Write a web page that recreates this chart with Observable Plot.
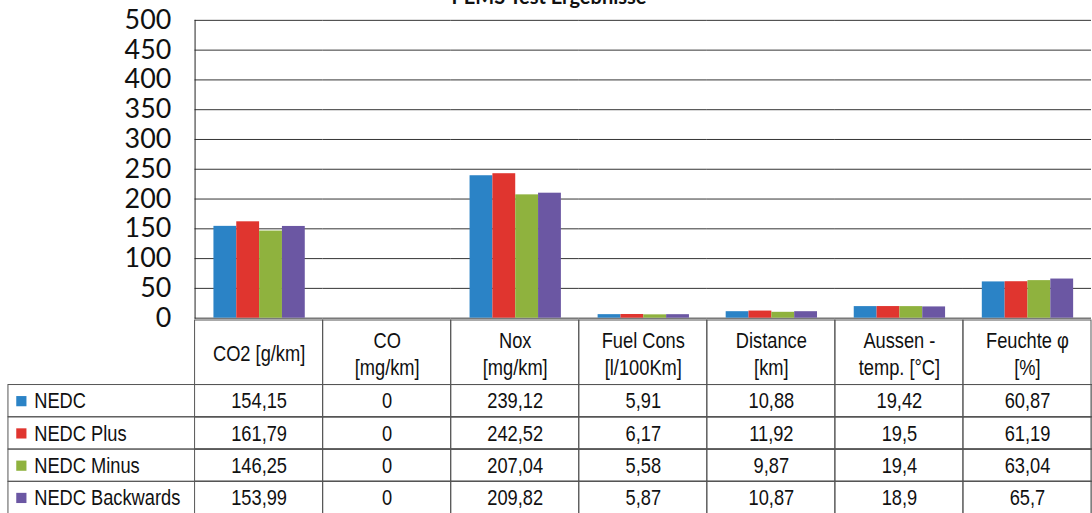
<!DOCTYPE html>
<html>
<head>
<meta charset="utf-8">
<script src="https://cdn.jsdelivr.net/npm/d3@7"></script>
<script src="https://cdn.jsdelivr.net/npm/@observablehq/plot@0.6"></script>
<style>
  html, body { margin: 0; padding: 0; background: #fff; overflow: hidden; width: 1092px; height: 513px; }
  #wrap { position: relative; width: 1092px; height: 513px; overflow: hidden; }
  #title { position: absolute; left: 0; width: 1098px; top: -14px; text-align: center;
           font: bold 20px Lato, "Open Sans", sans-serif; line-height: 20px; color: #111; }
  #chart { position: absolute; left: 0; top: 0; }
  #table { position: absolute; left: 0; top: 320px; }
  svg { overflow: visible; }
</style>
</head>
<body>
<div id="wrap">
  <div id="title">PEMS Test Ergebnisse</div>
  <div id="chart"></div>
  <div id="table"></div>
</div>
<script>
// ---- data ----
const categories = ["CO2 [g/km]", "CO\n[mg/km]", "Nox\n[mg/km]", "Fuel Cons\n[l/100Km]", "Distance\n[km]", "Aussen -\ntemp. [°C]", "Feuchte φ\n[%]"];
const series = ["NEDC", "NEDC Plus", "NEDC Minus", "NEDC Backwards"];
const nedc          = [154.15, 0, 239.12, 5.91, 10.88, 19.42, 60.87];
const nedcPlus      = [161.79, 0, 242.52, 6.17, 11.92, 19.5, 61.19];
const nedcMinus     = [146.25, 0, 207.04, 5.58, 9.87, 19.4, 63.04];
const nedcBackwards = [153.99, 0, 209.82, 5.87, 10.87, 18.9, 65.7];
const yTicks = [0, 50, 100, 150, 200, 250, 300, 350, 400, 450, 500];
const colors = ["#2b83c6", "#e0352f", "#8fb23e", "#6b57a3"];

// ---- derived table ----
const valuesBySeries = [nedc, nedcPlus, nedcMinus, nedcBackwards];
const rows = [];
series.forEach((s, si) => {
  categories.forEach((c, ci) => {
    rows.push({series: s, si, category: c, value: valuesBySeries[si][ci]});
  });
});
const fmt = v => String(v).replace(".", ",");
const tableFont = '"Liberation Sans", Arial, sans-serif';

// ---- chart ----
const chart = Plot.plot({
  width: 1100, height: 322,
  marginTop: 20, marginBottom: 2, marginLeft: 194, marginRight: 0,
  style: {background: "transparent", overflow: "visible"},
  fx: {domain: categories, padding: 0, axis: null},
  x: {domain: series, paddingInner: 0, paddingOuter: 0.755, axis: null},
  y: {domain: [0, 500], axis: null},
  color: {domain: series, range: colors},
  marks: [
    Plot.gridY({ticks: yTicks, stroke: "#333", strokeOpacity: 1, strokeWidth: 1}),
    Plot.frame({anchor: "left", facetAnchor: "left", stroke: "#222"}),
    Plot.barY(rows, {fx: "category", x: "series", y: "value", fill: "series"}),
    Plot.axisY({ticks: yTicks, label: null, tickSize: 0, tickPadding: 24, fontSize: 27, fontFamily: "Lato, 'Open Sans', sans-serif", fill: "#111"})
  ]
});
document.getElementById("chart").appendChild(chart);

// ---- data table ----
const tableLine = "#555";
const table = Plot.plot({
  width: 1100, height: 195,
  marginTop: 0, marginBottom: 0, marginLeft: 8, marginRight: 0,
  style: {background: "transparent", overflow: "visible", fontFamily: tableFont},
  x: {domain: categories, range: [194, 1100], padding: 0, axis: null},
  y: {domain: [0, 6], range: [0, 195], axis: null},
  color: {domain: series, range: colors},
  marks: [
    // full-width series rows (legend column + row lines)
    Plot.barY(series, {y1: (d, i) => i + 2, y2: (d, i) => i + 3, fill: "none", stroke: tableLine}),
    // header cells
    Plot.barY(categories, {x: d => d, y1: 0, y2: 2, fill: "none", stroke: tableLine}),
    // value cells
    Plot.barY(rows, {x: "category", y1: d => d.si + 2, y2: d => d.si + 3, fill: "none", stroke: tableLine}),
    // header labels
    Plot.text(categories, {x: d => d, y: 1, text: d => d, fontSize: 23, lineHeight: 1.18, fill: "#111", fontFamily: tableFont}),
    // values
    Plot.text(rows, {x: "category", y: d => d.si + 2.5, text: d => fmt(d.value), fontSize: 23, fill: "#111", fontFamily: tableFont}),
    // legend keys
    Plot.dot(series, {y: (d, i) => i + 2.5, frameAnchor: "left", dx: 13, symbol: "square", r: 5.8, fill: d => d, stroke: "none"}),
    Plot.text(series, {y: (d, i) => i + 2.5, frameAnchor: "left", dx: 26, textAnchor: "start", text: d => d, fontSize: 23, fill: "#111", fontFamily: tableFont})
  ]
});
// narrow the table typeface (Arial Narrow look) by a horizontal scale on each text
d3.select(table).selectAll("text").each(function () {
  const t = this.getAttribute("transform");
  if (t) {
    this.setAttribute("transform", t + " scale(0.8,1)");
  } else {
    const x = +this.getAttribute("x") || 0, y = +this.getAttribute("y") || 0;
    this.setAttribute("x", 0); this.setAttribute("y", 0);
    this.setAttribute("transform", `translate(${x},${y}) scale(0.8,1)`);
  }
});
document.getElementById("table").appendChild(table);
</script>
</body>
</html>
